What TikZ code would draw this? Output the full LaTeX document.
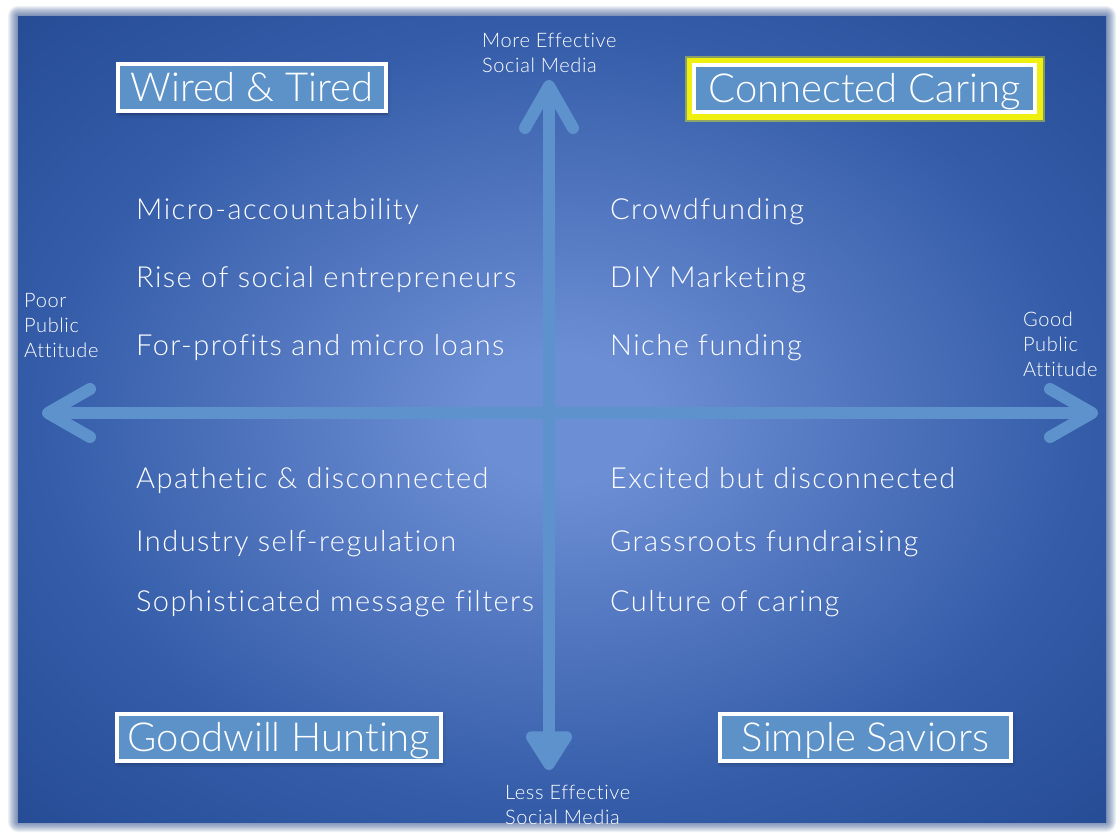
\documentclass[tikz,border=0pt]{standalone}
\usepackage{fontspec}
\setmainfont{Lato}[UprightFont=* Light, Ligatures=NoCommon]
\usetikzlibrary{arrows.meta, positioning, shadows.blur}

\definecolor{panelin}{RGB}{108,142,212}
\definecolor{panelmid}{RGB}{52,92,168}
\definecolor{panelout}{RGB}{20,56,126}
\definecolor{axisblue}{RGB}{94,146,204}
\definecolor{boxblue}{RGB}{93,146,200}
\definecolor{glow}{RGB}{240,240,16}

% light centre, dark corners
\pgfdeclareradialshading{panelshade}{\pgfpoint{0bp}{0bp}}{%
  color(0bp)=(panelin); color(4bp)=(panelin); color(24bp)=(panelmid);
  color(50bp)=(panelout); color(75bp)=(panelout)}

\begin{document}
\begin{tikzpicture}[x=1pt, y=-1pt,
    quadrant/.style={draw=white, line width=4pt, fill=boxblue, text=white,
      font=\fontsize{40}{44}\selectfont, minimum height=47pt, inner sep=0pt,
      text height=30pt, text depth=2pt,
      blur shadow={shadow xshift=1pt, shadow yshift=-3pt, shadow opacity=35, shadow blur radius=3pt}},
    trend/.style={anchor=base west, text=white, inner sep=0pt,
      font=\fontsize{29}{32}\selectfont\addfontfeature{LetterSpace=5}},
    axislabel/.style={anchor=north west, align=left, text=white, inner sep=0pt,
      font=\fontsize{20}{25}\selectfont\addfontfeature{LetterSpace=3}},
    axis/.style={draw=axisblue, line width=12pt,
      arrows={Straight Barb[round, length=42pt, width=48pt]-Straight Barb[round, length=42pt, width=48pt]}}]

  \useasboundingbox (0,0) rectangle (1120,833);
  \fill[white] (0,0) rectangle (1120,833);

  % soft edge round the panel
  \foreach \k in {1,...,10}
    \fill[panelout, opacity=0.07, rounded corners=\k pt] ({18-\k},{16-\k}) rectangle ({1106+\k},{822+\k});
  \path[shading=panelshade] (18,16) rectangle (1106,822);

  % axes
  \coordinate (north) at (549,80);
  \coordinate (south) at (549,770);
  \coordinate (west) at (42,413);
  \coordinate (east) at (1098,413);
  \draw[axis, arrows={Straight Barb[round, length=42pt, width=48pt]-Triangle[round, length=44pt, width=52pt]}] (north) -- (south);
  \draw[axis] (west) -- (east);

  \node[axislabel] (more) at (482,33) {More Effective\\Social Media};
  \node[axislabel] (less) at (505,785) {Less Effective\\Social Media};
  \node[axislabel] (poor) at (24,293) {Poor\\Public\\Attitude};
  \node[axislabel] (good) at (1023,312) {Good\\Public\\Attitude};

  % quadrant titles
  \node[quadrant, minimum width=268pt] (wired) at (252,87.5) {Wired \& Tired};
  \node[quadrant, minimum width=341pt,
    preaction={draw=glow, line width=19pt, opacity=.45, rounded corners=3pt},
    preaction={draw=glow, line width=15pt}] (connected) at (864.5,88.5) {Connected Caring};
  \node[quadrant, minimum width=324pt] (goodwill) at (279,737) {Goodwill Hunting};
  \node[quadrant, minimum width=291pt] (saviors) at (865.5,737) {Simple Saviors};

  % upper left
  \node[trend] (microacc) at (136,219) {Micro-accountability};
  \node[trend] (socialent) at (136,287) {Rise of social entrepreneurs};
  \node[trend] (forprofit) at (136,355) {For-profits and micro loans};
  % upper right
  \node[trend] (crowd) at (610,219) {Crowdfunding};
  \node[trend] (diy) at (610,287) {DIY Marketing};
  \node[trend] (niche) at (610,355) {Niche funding};
  % lower left
  \node[trend] (apathetic) at (136,488) {Apathetic \& disconnected};
  \node[trend] (selfreg) at (136,551) {Industry self-regulation};
  \node[trend] (filters) at (136,611) {Sophisticated message filters};
  % lower right
  \node[trend] (excited) at (610,488) {Excited but disconnected};
  \node[trend] (grassroots) at (610,551) {Grassroots fundraising};
  \node[trend] (culture) at (610,611) {Culture of caring};
\end{tikzpicture}
\end{document}
